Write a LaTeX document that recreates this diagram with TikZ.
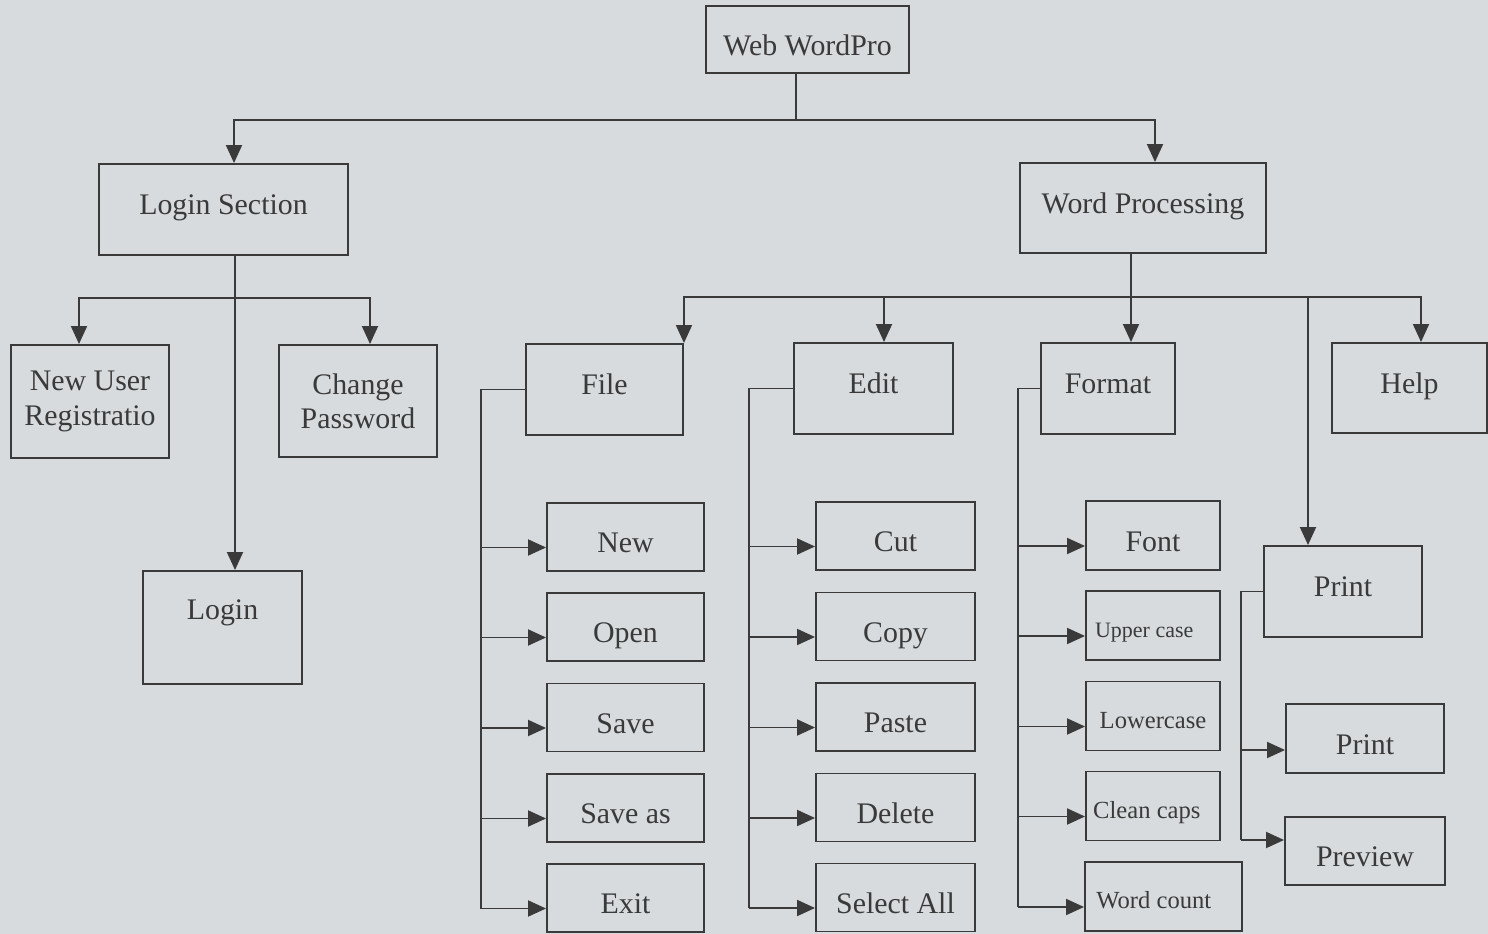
\documentclass[tikz,border=0pt]{standalone}
\usepackage{fontspec}
\setmainfont{Liberation Serif}
\usetikzlibrary{arrows.meta}
\definecolor{paper}{RGB}{215,219,222}
\definecolor{ink}{RGB}{58,58,58}
\tikzset{>={Triangle[length=3.6mm,width=3.2mm]}}
\tikzset{
  box/.style={draw=ink, line width=1.1pt, text=ink, inner sep=0pt, align=center,
    font=\fontsize{17}{19.5}\selectfont},
  sz/.style 2 args={minimum width=#1*0.2mm, minimum height=#2*0.2mm},
  small/.style={font=\fontsize{14}{16}\selectfont, text height=17.5pt, text depth=3.5pt},
  hi/.style={text height=12pt, text depth=6pt},
  lo/.style={text height=22pt, text depth=4pt},
  line/.style={draw=ink, line width=1.1pt},
}

\begin{document}
\begin{tikzpicture}[x=0.2mm, y=-0.2mm]
  \useasboundingbox (0,0) rectangle (1488,934);
  \fill[paper] (0,0) rectangle (1488,934);

  % top of the tree
  \node[box, lo, sz={203}{67}] (web) at (807.5,39.5) {Web WordPro};
  \node[box, hi, sz={249}{91}] (logsec) at (223.5,209.5) {Login Section};
  \node[box, hi, sz={246}{90}] (wordproc) at (1143,208) {Word Processing};
  \coordinate (bus0) at (796,120);
  \draw[line] (web.south -| bus0) -- (bus0);
  \draw[line,->] (bus0) -| ([xshift=2.1mm]logsec.north);
  \draw[line,->] (bus0) -| ([xshift=2.4mm]wordproc.north);

  % login section
  \node[box, sz={158}{113}] (newuser) at (90,401.5) {New User\\Registratio};
  \node[box, sz={158}{112}] (chgpass) at (358,401) {Change\\Password};
  \node[box, sz={159}{113}, text depth=20pt] (login) at (222.5,627.5) {Login};
  \coordinate (bus1) at (235,298);
  \draw[line,->] (bus1 |- logsec.south) -- (bus1 |- login.north);
  \draw[line,->] (bus1) -| ([xshift=-2.2mm]newuser.north);
  \draw[line,->] (bus1) -| ([xshift=2.4mm]chgpass.north);

  % word processing menus
  \node[box, hi, sz={157}{91}] (file) at (604.5,389.5) {File};
  \node[box, hi, sz={159}{91}] (edit) at (873.5,388.5) {Edit};
  \node[box, hi, sz={134}{91}] (format) at (1108,388.5) {Format};
  \node[box, hi, sz={155}{90}] (help) at (1409.5,388) {Help};
  \node[box, hi, sz={158}{91}] (print) at (1343,591.5) {Print};
  \coordinate (bus2) at (1131,297);
  \draw[line] (bus2 |- wordproc.south) -- (bus2);
  \draw[line,->] (bus2) -| (file.north east);
  \draw[line,->] (bus2) -| ([xshift=2.1mm]edit.north);
  \draw[line,->] (bus2) -- (bus2 |- format.north);
  \draw[line,->] (bus2) -| ([xshift=2.3mm]help.north);
  \draw[line,->] (bus2) -| ([xshift=-7mm]print.north);

  % file menu
  \foreach \n/\t/\y in {new/New/537, open/Open/627, save/Save/717.5, saveas/Save as/808, exit/Exit/898}
    \node[box, lo, sz={157}{68}] (\n) at (625.5,\y) {\t};
  \coordinate (fileT) at (481,389.5);
  \draw[line] (file.west) -| ([yshift=-2.1mm]exit.west -| fileT);
  \foreach \n in {new,open,save,saveas,exit}
    \draw[line,->] ([yshift=-2.1mm]\n.west -| fileT) -- ([yshift=-2.1mm]\n.west);

  % edit menu
  \foreach \n/\t/\y in {cut/Cut/536, copy/Copy/626.5, paste/Paste/717, delete/Delete/807.5, selall/Select All/897.5}
    \node[box, lo, sz={159}{68}] (\n) at (895.5,\y) {\t};
  \coordinate (editT) at (749,388.5);
  \draw[line] (edit.west) -| ([yshift=-2.1mm]selall.west -| editT);
  \foreach \n in {cut,copy,paste,delete,selall}
    \draw[line,->] ([yshift=-2.1mm]\n.west -| editT) -- ([yshift=-2.1mm]\n.west);

  % format menu
  \node[box, lo, sz={134}{69}] (font) at (1153,535.5) {Font};
  \node[box, small, sz={134}{69}, font=\fontsize{12.5}{15}\selectfont] (upper) at (1153,625.5) {Upper case\hspace{10pt}};
  \node[box, small, sz={134}{69}] (lower) at (1153,716) {Lowercase};
  \node[box, small, sz={134}{69}] (clean) at (1153,806) {Clean caps\hspace{7pt}};
  \node[box, small, sz={157}{69}] (wcount) at (1163.5,896.5) {Word count\hspace{11pt}};
  \coordinate (formT) at (1018,388.5);
  \draw[line] (format.west) -| ([yshift=-2.1mm]wcount.west -| formT);
  \foreach \n in {font,upper,lower,clean,wcount}
    \draw[line,->] ([yshift=-2.1mm]\n.west -| formT) -- ([yshift=-2.1mm]\n.west);

  % print menu
  \node[box, lo, sz={158}{69}] (prt) at (1365,738.5) {Print};
  \node[box, lo, sz={160}{68}] (preview) at (1365,851) {Preview};
  \coordinate (printT) at (1241,591.5);
  \draw[line] (print.west) -| ([yshift=2.2mm]preview.west -| printT);
  \draw[line,->] ([yshift=-2.3mm]prt.west -| printT) -- ([yshift=-2.3mm]prt.west);
  \draw[line,->] ([yshift=2.2mm]preview.west -| printT) -- ([yshift=2.2mm]preview.west);
\end{tikzpicture}
\end{document}
